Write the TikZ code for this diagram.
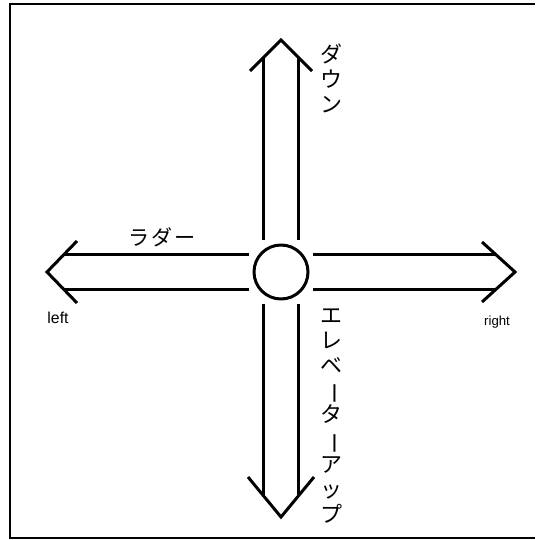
\documentclass[tikz,border=0pt]{standalone}
\usepackage{fontspec}
\setmainfont{Liberation Sans}
\newfontfamily\jpfont[LetterSpace=8]{Noto Sans CJK JP}
\newfontfamily\jpvert{Noto Sans CJK JP}
\newcommand\vchoon{\rotatebox[origin=c]{-90}{ー}}
\usetikzlibrary{calc}

\begin{document}
\begin{tikzpicture}[
  x=0.02cm, y=-0.02cm,
  hub/.style={draw, circle, line width=1.7pt, minimum size=1.08cm, inner sep=0pt, outer sep=0.1cm},
  arm/.style={double, double distance=0.64cm, line width=1.7pt},
  head/.style={line width=1.7pt},
  vlabel/.style={align=center, inner sep=0pt, font=\jpvert\fontsize{12.5}{14.2}\selectfont},
  hlabel/.style={inner sep=0pt, font=\jpfont\fontsize{12}{14}\selectfont}
]
\useasboundingbox (0,0) rectangle (535,540);
\draw[line width=1.7pt] (535,4) -- (10,4) -- (10,538) -- (535,538);

\node[hub] (hub) at (281,272) {};
\coordinate (uptip) at (281,40);
\coordinate (downtip) at (281,517);
\coordinate (lefttip) at (47,272);
\coordinate (righttip) at (515,272);

% arms
\draw[arm, shorten >=0.35cm] (hub) -- (uptip);
\draw[arm, shorten >=0.42cm] (hub) -- (downtip);
\draw[arm, shorten >=0.34cm] (hub) -- (lefttip);
\draw[arm, shorten >=0.385cm] (hub) -- (righttip);

% heads
\draw[head] ($(uptip)+(-31,31)$) -- (uptip) -- ($(uptip)+(31,31)$);
\draw[head] ($(downtip)+(-33,-40)$) -- (downtip) -- ($(downtip)+(33,-40)$);
\draw[head] ($(lefttip)+(30,-31)$) -- (lefttip) -- ($(lefttip)+(30,31)$);
\draw[head] ($(righttip)+(-33,-30)$) -- (righttip) -- ($(righttip)+(-33,30)$);

\node[vlabel] (down) at (331,78) {ダ\\ウ\\ン};
\node[vlabel] (elevup) at (331,416) {エ\\レ\\ベ\\\vchoon\\タ\\\vchoon\\ア\\ッ\\プ};
\node[hlabel] (ladder) at (162,237) {ラダー};
\node[font=\fontsize{9}{10}\selectfont] (left) at (58,318) {left};
\node[font=\fontsize{7.5}{9}\selectfont] (right) at (497,322) {right};
\end{tikzpicture}
\end{document}
